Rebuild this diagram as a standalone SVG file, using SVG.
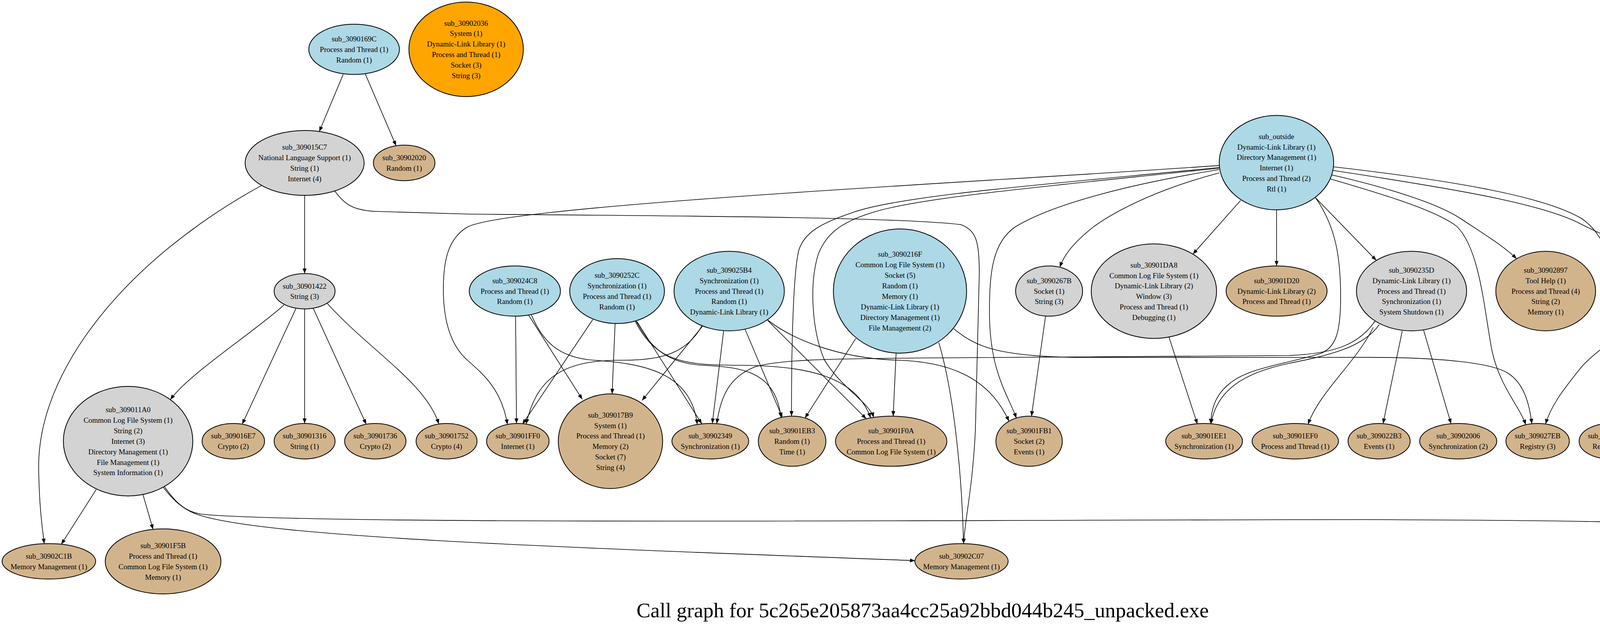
<svg xmlns="http://www.w3.org/2000/svg" width="4724" height="1610" viewBox="0 0 4724 1610">
<defs>
<style>
ellipse{stroke:#000;stroke-width:2}
.b{fill:#add8e6}.g{fill:#d3d3d3}.t{fill:#d2b48c}.o{fill:#ffa500}
text{font-family:"Liberation Serif","Times New Roman",serif;font-size:19px;text-anchor:middle;fill:#000}
#edges path{fill:none;stroke:#000;stroke-width:1.6;marker-end:url(#a)}
.title{font-size:53.4px}
</style>
<marker id="a" markerUnits="userSpaceOnUse" markerWidth="14" markerHeight="11" refX="13" refY="5" orient="auto" viewBox="0 0 14 10"><path d="M0,0 L13,5 L0,10z" fill="#000"/></marker>
</defs>
<rect width="4724" height="1610" fill="#fff"/>
<g id="edges">
<path d="M878.6,190.4 L817.3,336.7"/>
<path d="M935.2,189.4 L1014,373.1"/>
<path d="M779.8,500 L779.8,700.3"/>
<path d="M669.6,474.6 C320,667 95,950 99,1200 C100,1290 108,1350 113.3,1391.7"/>
<path d="M857,489 C880,520 900,538 960,541 L1200,548 C1800,553 2300,556 2460,575 C2500,590 2507,620 2507,700 L2497,1100 C2490,1250 2470,1330 2466.8,1391.6"/>
<path d="M727,780.7 C650,850 480,960 436.2,1023.1"/>
<path d="M757.6,789.6 L620,1085.8"/>
<path d="M779.8,790.7 L779.8,1083.9"/>
<path d="M802,789.6 L937.5,1085.9"/>
<path d="M838,777 C950,900 1090,980 1123.4,1085.3"/>
<path d="M246.4,1252.9 L156.9,1393.1"/>
<path d="M365.8,1265.2 L391.8,1355"/>
<path d="M417,1246 C450,1290 480,1310 515,1320 C700,1375 1400,1400 2342.5,1435"/>
<path d="M420,1244 C455,1295 480,1310 515,1316 C800,1345 2600,1330 3500,1330 C4000,1332 4300,1335 4340,1352 C4370,1365 4395,1380 4413.4,1397.4"/>
<path d="M1319.9,809.3 L1322.2,1084"/>
<path d="M1352.8,805.7 L1490.6,1022"/>
<path d="M1360.5,806.4 C1390,875 1430,915 1520,922 C1640,930 1770,950 1785,1086.6"/>
<path d="M1517.3,818.2 L1337.5,1085.8"/>
<path d="M1574.7,827.9 L1567,1008.2"/>
<path d="M1630.6,822.9 L1796.7,1085"/>
<path d="M1628.3,821.8 C1660,880 1700,930 1800,935 C1900,940 1985,950 1999.5,1068.8"/>
<path d="M1626,822 C1680,930 1760,935 1900,935 C2060,937 2190,960 2229,1069.8"/>
<path d="M1796.7,834.3 C1760,900 1700,922 1600,922 C1450,920 1375,960 1347,1085.5"/>
<path d="M1799,834.3 L1643.6,1025"/>
<path d="M1852.5,846.8 L1823.5,1084"/>
<path d="M1907.6,843.2 L2003,1069"/>
<path d="M1965,820 L2217.6,1072"/>
<path d="M1965,819 C2030,870 2150,918 2300,922 C2420,926 2530,960 2583,1078.4"/>
<path d="M2190.8,866.4 L2060.7,1070.1"/>
<path d="M2294,903.9 L2286.5,1065.3"/>
<path d="M2403.3,877 C2440,1000 2462,1200 2466.8,1391.6"/>
<path d="M2441.6,841.4 C2500,890 2560,912 2760,915 L3500,914.6 C3700,915 3820,930 3860,955 C3900,980 3915,1030 3921.5,1084.9"/>
<path d="M3121,423.6 C2600,460 1800,500 1400,545 C1300,556 1220,568 1195,582 C1150,610 1135,660 1135,740 C1135,850 1170,900 1200,925 C1240,960 1285,1000 1299,1086.5"/>
<path d="M3121,428.8 C2700,470 2300,500 2180,545 C2100,572 2060,595 2045,640 C2030,700 2026,900 2026.3,1065.3"/>
<path d="M3121,430.5 C2700,475 2350,505 2230,545 C2150,570 2115,600 2095,650 C2070,730 2080,850 2110,920 C2150,990 2225,1030 2236.7,1068.5"/>
<path d="M3121,434 C2900,470 2700,520 2600,580 C2540,620 2533,700 2533,800 C2533,950 2580,1010 2602,1070.2"/>
<path d="M3121,442.5 C2980,480 2870,530 2800,580 C2750,620 2725,650 2713,684"/>
<path d="M3176,513 L3053.8,650.6"/>
<path d="M3268,537.1 L3268,680.7"/>
<path d="M3367.6,506 L3523.4,666.6"/>
<path d="M3409.7,447.7 C3550,480 3680,520 3740,560 C3800,600 3850,630 3882.5,662.3"/>
<path d="M3411,436 C3700,480 3950,520 4050,575 C4130,615 4200,640 4233.8,670.9"/>
<path d="M3405.8,458 C3550,500 3680,540 3730,580 C3790,640 3800,800 3820,900 C3840,990 3890,1040 3906,1087.2"/>
<path d="M3414,427 C3700,460 3950,500 4050,560 C4120,610 4140,700 4140,900 C4140,1000 4130,1050 4128.4,1084"/>
<path d="M3367,505 C3420,580 3432,660 3432,760 C3432,850 3420,890 3380,905 C3300,930 3200,940 3150,980 C3110,1010 3100,1050 3099.8,1085.4"/>
<path d="M2676.5,810 L2640.5,1065.4"/>
<path d="M2992.6,862.9 L3065.3,1085.4"/>
<path d="M3531,830.7 C3490,890 3400,910 3300,930 C3180,955 3115,1000 3099.8,1085.4"/>
<path d="M3515.6,838 C3470,930 3380,1000 3348.5,1086"/>
<path d="M3589.8,846.8 L3540.6,1084.3"/>
<path d="M3644.4,845 L3714.7,1084.5"/>
<path d="M3520,822 C3480,880 3420,905 3300,910 L2400,916 C2100,918 1990,921 1930,940 C1870,965 1845,1010 1835,1084.6"/>
<path d="M4210,813 C4130,870 4070,910 4040,950 C4000,1000 3970,1040 3956.7,1085.3"/>
<path d="M4257.2,827 L4148,1086.3"/>
<path d="M4279,827.9 L4253.3,1391.5"/>
<path d="M4327.5,827.9 L4382,966.7"/>
<path d="M4417,784 C4580,880 4690,1000 4694,1100 C4700,1250 4620,1340 4522.6,1410"/>
<path d="M4354.8,1279.2 L4284.6,1395"/>
<path d="M4453.5,1305.5 L4453,1391.5"/>
</g>
<g id="sub_3090169C"><ellipse class="b" cx="906.5" cy="126.2" rx="116" ry="64.2"/><text x="906.5" y="105.8">sub_3090169C<tspan x="906.5" dy="26.9">Process and Thread (1)</tspan><tspan x="906.5" dy="26.9">Random (1)</tspan></text></g>
<g id="sub_30902036"><ellipse class="o" cx="1193.3" cy="126.2" rx="146.5" ry="121"/><text x="1193.3" y="65.5">sub_30902036<tspan x="1193.3" dy="26.9">System (1)</tspan><tspan x="1193.3" dy="26.9">Dynamic-Link Library (1)</tspan><tspan x="1193.3" dy="26.9">Process and Thread (1)</tspan><tspan x="1193.3" dy="26.9">Socket (3)</tspan><tspan x="1193.3" dy="26.9">String (3)</tspan></text></g>
<g id="sub_309015C7"><ellipse class="g" cx="779.8" cy="417.1" rx="152.3" ry="83"/><text x="779.8" y="383.3">sub_309015C7<tspan x="779.8" dy="26.9">National Language Support (1)</tspan><tspan x="779.8" dy="26.9">String (1)</tspan><tspan x="779.8" dy="26.9">Internet (4)</tspan></text></g>
<g id="sub_30902020"><ellipse class="t" cx="1034.7" cy="417" rx="78.8" ry="45.5"/><text x="1034.7" y="410">sub_30902020<tspan x="1034.7" dy="26.9">Random (1)</tspan></text></g>
<g id="sub_outside"><ellipse class="b" cx="3267.7" cy="416.3" rx="146.5" ry="120.8"/><text x="3267.7" y="355.6">sub_outside<tspan x="3267.7" dy="26.9">Dynamic-Link Library (1)</tspan><tspan x="3267.7" dy="26.9">Directory Management (1)</tspan><tspan x="3267.7" dy="26.9">Internet (1)</tspan><tspan x="3267.7" dy="26.9">Process and Thread (2)</tspan><tspan x="3267.7" dy="26.9">Rtl (1)</tspan></text></g>
<g id="sub_30901422"><ellipse class="g" cx="779.8" cy="745.5" rx="78" ry="45.2"/><text x="779.8" y="738.5">sub_30901422<tspan x="779.8" dy="26.9">String (3)</tspan></text></g>
<g id="sub_309024C8"><ellipse class="b" cx="1318" cy="745" rx="116.7" ry="64.3"/><text x="1318" y="724.6">sub_309024C8<tspan x="1318" dy="26.9">Process and Thread (1)</tspan><tspan x="1318" dy="26.9">Random (1)</tspan></text></g>
<g id="sub_3090252C"><ellipse class="b" cx="1579.7" cy="745" rx="121.3" ry="83"/><text x="1579.7" y="711.2">sub_3090252C<tspan x="1579.7" dy="26.9">Synchronization (1)</tspan><tspan x="1579.7" dy="26.9">Process and Thread (1)</tspan><tspan x="1579.7" dy="26.9">Random (1)</tspan></text></g>
<g id="sub_309025B4"><ellipse class="b" cx="1866.7" cy="745" rx="141.2" ry="101.8"/><text x="1866.7" y="697.7">sub_309025B4<tspan x="1866.7" dy="26.9">Synchronization (1)</tspan><tspan x="1866.7" dy="26.9">Process and Thread (1)</tspan><tspan x="1866.7" dy="26.9">Random (1)</tspan><tspan x="1866.7" dy="26.9">Dynamic-Link Library (1)</tspan></text></g>
<g id="sub_3090216F"><ellipse class="b" cx="2304" cy="745" rx="170.5" ry="158.9"/><text x="2304" y="657.4">sub_3090216F<tspan x="2304" dy="26.9">Common Log File System (1)</tspan><tspan x="2304" dy="26.9">Socket (5)</tspan><tspan x="2304" dy="26.9">Random (1)</tspan><tspan x="2304" dy="26.9">Memory (1)</tspan><tspan x="2304" dy="26.9">Dynamic-Link Library (1)</tspan><tspan x="2304" dy="26.9">Directory Management (1)</tspan><tspan x="2304" dy="26.9">File Management (2)</tspan></text></g>
<g id="sub_3090267B"><ellipse class="g" cx="2685.7" cy="745" rx="85.7" ry="64.3"/><text x="2685.7" y="724.6">sub_3090267B<tspan x="2685.7" dy="26.9">Socket (1)</tspan><tspan x="2685.7" dy="26.9">String (3)</tspan></text></g>
<g id="sub_30901DA8"><ellipse class="g" cx="2954" cy="745.3" rx="160.4" ry="121"/><text x="2954" y="684.6">sub_30901DA8<tspan x="2954" dy="26.9">Common Log File System (1)</tspan><tspan x="2954" dy="26.9">Dynamic-Link Library (2)</tspan><tspan x="2954" dy="26.9">Window (3)</tspan><tspan x="2954" dy="26.9">Process and Thread (1)</tspan><tspan x="2954" dy="26.9">Debugging (1)</tspan></text></g>
<g id="sub_30901D20"><ellipse class="t" cx="3268.1" cy="745" rx="129.3" ry="64.3"/><text x="3268.1" y="724.6">sub_30901D20<tspan x="3268.1" dy="26.9">Dynamic-Link Library (2)</tspan><tspan x="3268.1" dy="26.9">Process and Thread (1)</tspan></text></g>
<g id="sub_3090235D"><ellipse class="g" cx="3613.5" cy="745" rx="141" ry="101.8"/><text x="3613.5" y="697.7">sub_3090235D<tspan x="3613.5" dy="26.9">Dynamic-Link Library (1)</tspan><tspan x="3613.5" dy="26.9">Process and Thread (1)</tspan><tspan x="3613.5" dy="26.9">Synchronization (1)</tspan><tspan x="3613.5" dy="26.9">System Shutdown (1)</tspan></text></g>
<g id="sub_30902897"><ellipse class="t" cx="3957" cy="745" rx="127.7" ry="101.8"/><text x="3957" y="697.7">sub_30902897<tspan x="3957" dy="26.9">Tool Help (1)</tspan><tspan x="3957" dy="26.9">Process and Thread (4)</tspan><tspan x="3957" dy="26.9">String (2)</tspan><tspan x="3957" dy="26.9">Memory (1)</tspan></text></g>
<g id="sub_30902AC9"><ellipse class="g" cx="4294.6" cy="745" rx="135" ry="83"/><text x="4294.6" y="711.2">sub_30902AC9<tspan x="4294.6" dy="26.9">Dynamic-Link Library (1)</tspan><tspan x="4294.6" dy="26.9">Random (1)</tspan><tspan x="4294.6" dy="26.9">String (3)</tspan></text></g>
<g id="sub_309011A0"><ellipse class="g" cx="327.9" cy="1129.2" rx="165.7" ry="140.2"/><text x="327.9" y="1055">sub_309011A0<tspan x="327.9" dy="26.9">Common Log File System (1)</tspan><tspan x="327.9" dy="26.9">String (2)</tspan><tspan x="327.9" dy="26.9">Internet (3)</tspan><tspan x="327.9" dy="26.9">Directory Management (1)</tspan><tspan x="327.9" dy="26.9">File Management (1)</tspan><tspan x="327.9" dy="26.9">System Information (1)</tspan></text></g>
<g id="sub_309016E7"><ellipse class="t" cx="597.3" cy="1129.3" rx="80" ry="45.4"/><text x="597.3" y="1122.4">sub_309016E7<tspan x="597.3" dy="26.9">Crypto (2)</tspan></text></g>
<g id="sub_30901316"><ellipse class="t" cx="779.8" cy="1129.3" rx="78" ry="45.4"/><text x="779.8" y="1122.4">sub_30901316<tspan x="779.8" dy="26.9">String (1)</tspan></text></g>
<g id="sub_30901736"><ellipse class="t" cx="960.8" cy="1129.3" rx="78.5" ry="45.4"/><text x="960.8" y="1122.4">sub_30901736<tspan x="960.8" dy="26.9">Crypto (2)</tspan></text></g>
<g id="sub_30901752"><ellipse class="t" cx="1143.2" cy="1129.3" rx="78" ry="45.4"/><text x="1143.2" y="1122.4">sub_30901752<tspan x="1143.2" dy="26.9">Crypto (4)</tspan></text></g>
<g id="sub_30901FF0"><ellipse class="t" cx="1325.6" cy="1129.3" rx="80" ry="45.4"/><text x="1325.6" y="1122.4">sub_30901FF0<tspan x="1325.6" dy="26.9">Internet (1)</tspan></text></g>
<g id="sub_309017B9"><ellipse class="t" cx="1562.8" cy="1129.3" rx="133.6" ry="121.1"/><text x="1562.8" y="1068.6">sub_309017B9<tspan x="1562.8" dy="26.9">System (1)</tspan><tspan x="1562.8" dy="26.9">Process and Thread (1)</tspan><tspan x="1562.8" dy="26.9">Memory (2)</tspan><tspan x="1562.8" dy="26.9">Socket (7)</tspan><tspan x="1562.8" dy="26.9">String (4)</tspan></text></g>
<g id="sub_30902349"><ellipse class="t" cx="1818.4" cy="1129.3" rx="98.3" ry="45.4"/><text x="1818.4" y="1122.4">sub_30902349<tspan x="1818.4" dy="26.9">Synchronization (1)</tspan></text></g>
<g id="sub_30901EB3"><ellipse class="t" cx="2027.8" cy="1129.4" rx="86.5" ry="64.1"/><text x="2027.8" y="1109">sub_30901EB3<tspan x="2027.8" dy="26.9">Random (1)</tspan><tspan x="2027.8" dy="26.9">Time (1)</tspan></text></g>
<g id="sub_30901F0A"><ellipse class="t" cx="2281.4" cy="1129.4" rx="142.6" ry="64.1"/><text x="2281.4" y="1109">sub_30901F0A<tspan x="2281.4" dy="26.9">Process and Thread (1)</tspan><tspan x="2281.4" dy="26.9">Common Log File System (1)</tspan></text></g>
<g id="sub_30901FB1"><ellipse class="t" cx="2634.5" cy="1129.4" rx="85" ry="64.1"/><text x="2634.5" y="1109">sub_30901FB1<tspan x="2634.5" dy="26.9">Socket (2)</tspan><tspan x="2634.5" dy="26.9">Events (1)</tspan></text></g>
<g id="sub_30901EE1"><ellipse class="t" cx="3082.5" cy="1129.3" rx="98.3" ry="45.4"/><text x="3082.5" y="1122.4">sub_30901EE1<tspan x="3082.5" dy="26.9">Synchronization (1)</tspan></text></g>
<g id="sub_30901EF0"><ellipse class="t" cx="3315.9" cy="1129.3" rx="110.6" ry="45.4"/><text x="3315.9" y="1122.4">sub_30901EF0<tspan x="3315.9" dy="26.9">Process and Thread (1)</tspan></text></g>
<g id="sub_309022B3"><ellipse class="t" cx="3530.5" cy="1129.3" rx="79.5" ry="45.4"/><text x="3530.5" y="1122.4">sub_309022B3<tspan x="3530.5" dy="26.9">Events (1)</tspan></text></g>
<g id="sub_30902006"><ellipse class="t" cx="3733" cy="1129.3" rx="98.7" ry="45.4"/><text x="3733" y="1122.4">sub_30902006<tspan x="3733" dy="26.9">Synchronization (2)</tspan></text></g>
<g id="sub_309027EB"><ellipse class="t" cx="3936.4" cy="1129.3" rx="81.2" ry="45.4"/><text x="3936.4" y="1122.4">sub_309027EB<tspan x="3936.4" dy="26.9">Registry (3)</tspan></text></g>
<g id="sub_309027B6"><ellipse class="t" cx="4122.5" cy="1129.3" rx="80" ry="45.4"/><text x="4122.5" y="1122.4">sub_309027B6<tspan x="4122.5" dy="26.9">Registry (3)</tspan></text></g>
<g id="sub_309029FD"><ellipse class="g" cx="4453.5" cy="1128.5" rx="176" ry="177"/><text x="4453.5" y="1027.4">sub_309029FD<tspan x="4453.5" dy="26.9">Common Log File System (1)</tspan><tspan x="4453.5" dy="26.9">Process and Thread (2)</tspan><tspan x="4453.5" dy="26.9">String (2)</tspan><tspan x="4453.5" dy="26.9">Random (1)</tspan><tspan x="4453.5" dy="26.9">System (1)</tspan><tspan x="4453.5" dy="26.9">Directory Management (1)</tspan><tspan x="4453.5" dy="26.9">File Management (1)</tspan><tspan x="4453.5" dy="26.9">System Information (1)</tspan></text></g>
<g id="sub_30902C1B"><ellipse class="t" cx="125.1" cy="1436.8" rx="119.8" ry="45.3"/><text x="125.1" y="1429.9">sub_30902C1B<tspan x="125.1" dy="26.9">Memory Management (1)</tspan></text></g>
<g id="sub_30901F5B"><ellipse class="t" cx="417.5" cy="1437" rx="148.1" ry="83.2"/><text x="417.5" y="1403.2">sub_30901F5B<tspan x="417.5" dy="26.9">Process and Thread (1)</tspan><tspan x="417.5" dy="26.9">Common Log File System (1)</tspan><tspan x="417.5" dy="26.9">Memory (1)</tspan></text></g>
<g id="sub_30902C07"><ellipse class="t" cx="2461.5" cy="1436.8" rx="119.4" ry="45.3"/><text x="2461.5" y="1429.9">sub_30902C07<tspan x="2461.5" dy="26.9">Memory Management (1)</tspan></text></g>
<g id="sub_30902844"><ellipse class="t" cx="4254.5" cy="1436.8" rx="78.5" ry="45.3"/><text x="4254.5" y="1429.9">sub_30902844<tspan x="4254.5" dy="26.9">Registry (3)</tspan></text></g>
<g id="sub_30901F2B"><ellipse class="t" cx="4452.8" cy="1436.8" rx="80" ry="45.3"/><text x="4452.8" y="1429.9">sub_30901F2B<tspan x="4452.8" dy="26.9">Random (1)</tspan></text></g>
<text class="title" x="2362" y="1580">Call graph for 5c265e205873aa4cc25a92bbd044b245_unpacked.exe</text>
</svg>
